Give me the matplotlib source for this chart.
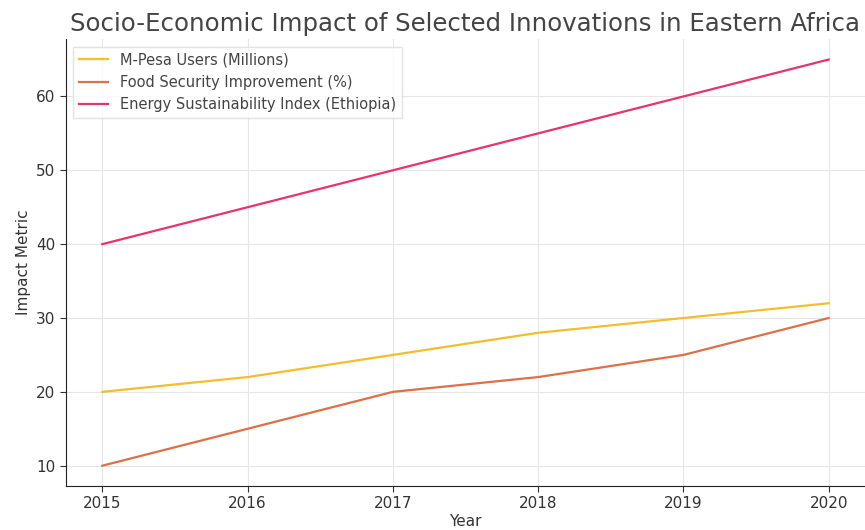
import matplotlib
matplotlib.use("Agg")
import matplotlib.pyplot as plt

years = [2015, 2016, 2017, 2018, 2019, 2020]
mpesa_users = [20, 22, 25, 28, 30, 32]
food_security = [10, 15, 20, 22, 25, 30]
energy_index = [40, 45, 50, 55, 60, 65]

series_labels = ["M-Pesa Users (Millions)", "Food Security Improvement (%)",
                 "Energy Sustainability Index (Ethiopia)"]
colors = ["#f2be2c", "#dc7048", "#e8336b"]

plt.rcParams['font.family'] = ['DejaVu Sans']
fig = plt.figure(figsize=(8.65, 5.30), dpi=100)
ax = fig.add_axes([0.0763, 0.083, 0.9237, 0.843])

for vals, lab, c in zip([mpesa_users, food_security, energy_index], series_labels, colors):
    ax.plot(years, vals, color=c, lw=1.6, label=lab)

ax.set_xticks(years)
ax.set_xticklabels([str(y) for y in years])
ax.tick_params(labelsize=11, colors="#333333", length=4)
ax.grid(True, color="#e6e6e6", lw=0.8)
ax.spines['top'].set_visible(False)
ax.spines['right'].set_visible(False)
ax.spines['left'].set_color("#222222")
ax.spines['bottom'].set_color("#222222")
ax.set_xlabel("Year", fontsize=11, color="#333333", labelpad=2)
ax.set_ylabel("Impact Metric", fontsize=11, color="#333333")
ax.set_title("Socio-Economic Impact of Selected Innovations in Eastern Africa",
             fontsize=17.6, color="#444444", pad=6)
leg = ax.legend(loc="upper left", fontsize=10.5, frameon=True, fancybox=False,
                edgecolor="#dddddd", labelcolor="#444444")

fig.savefig("out.png", dpi=100)
